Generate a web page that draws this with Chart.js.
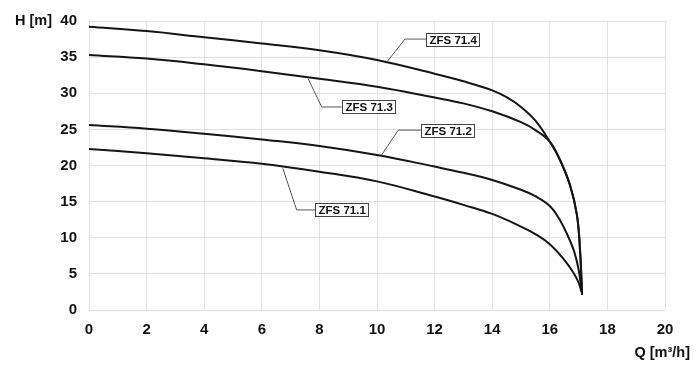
<!DOCTYPE html>
<html>
<head>
<meta charset="utf-8">
<script src="https://cdn.jsdelivr.net/npm/chart.js@4/dist/chart.umd.min.js"></script>
<style>
  html, body { margin: 0; padding: 0; background: #fff; }
  #wrap { width: 700px; height: 376px; position: relative; }
</style>
</head>
<body>
<div id="wrap"><canvas id="c"></canvas></div>
<script>
// ---- Data ----
const seriesNames = ['ZFS 71.4', 'ZFS 71.3', 'ZFS 71.2', 'ZFS 71.1'];

const q714 = [0, 2, 4, 6, 8, 10, 12, 13, 14, 14.5, 15, 15.5, 16, 16.35, 16.7, 16.94, 17.05, 17.12];
const h714 = [39.2, 38.6, 37.75, 36.9, 35.95, 34.6, 32.7, 31.65, 30.4, 29.45, 28.1, 26.2, 23.3, 20.8, 17.3, 13.2, 8.3, 2.1];

const q713 = [0, 2, 4, 6, 8, 10, 12, 13, 14, 15, 15.5, 16, 16.35, 16.7, 16.94, 17.05, 17.12];
const h713 = [35.3, 34.8, 34.0, 33.05, 32.0, 30.9, 29.4, 28.6, 27.5, 26.0, 24.9, 23.3, 20.8, 17.3, 13.2, 8.3, 2.1];

const q712 = [0, 2, 4, 6, 8, 10, 12, 13, 14, 15, 15.5, 16, 16.3, 16.6, 16.85, 17.0, 17.1];
const h712 = [25.6, 25.1, 24.4, 23.6, 22.7, 21.45, 19.85, 19.0, 18.0, 16.65, 15.75, 14.4, 12.8, 10.5, 8.05, 5.6, 2.8];

const q711 = [0, 2, 4, 6, 8, 10, 12, 13, 14, 15, 15.5, 16, 16.5, 16.8, 17.0, 17.1];
const h711 = [22.3, 21.7, 21.0, 20.25, 19.15, 17.8, 15.7, 14.55, 13.3, 11.55, 10.5, 9.1, 6.95, 5.3, 3.8, 2.5];

const xTicks = [0, 2, 4, 6, 8, 10, 12, 14, 16, 18, 20];
const yTicks = [0, 5, 10, 15, 20, 25, 30, 35, 40];

const yTitle = 'H [m]';
const xTitle = 'Q [m³/h]';

// label callouts: [text, box-left Q, box-center H, knee Q, curve Q, curve H]
const callouts = [
  ['ZFS 71.4', 11.70, 37.5, 10.97, 10.34, 34.3],
  ['ZFS 71.3', 8.77, 28.1, 8.08, 7.61, 32.0],
  ['ZFS 71.2', 11.52, 24.9, 10.74, 10.16, 21.45],
  ['ZFS 71.1', 7.85, 13.85, 7.21, 6.73, 19.6]
];

const pts = (q, h) => q.map((v, i) => ({ x: v, y: h[i] }));
const allSeries = [pts(q714, h714), pts(q713, h713), pts(q712, h712), pts(q711, h711)];

const FONT = "'Liberation Sans', Arial, sans-serif";

const overlay = {
  id: 'overlay',
  afterDatasetsDraw(chart) {
    const { ctx, scales: { x, y } } = chart;
    ctx.save();
    ctx.font = 'bold 11.5px ' + FONT;
    callouts.forEach(c => {
      const [txt, bq, bh, kq, cq, ch] = c;
      const bx = x.getPixelForValue(bq);
      const by = y.getPixelForValue(bh);
      const kx = x.getPixelForValue(kq);
      const ex = x.getPixelForValue(cq);
      const ey = y.getPixelForValue(ch);
      ctx.strokeStyle = '#555';
      ctx.lineWidth = 1;
      ctx.beginPath();
      ctx.moveTo(bx, by);
      ctx.lineTo(kx, by);
      ctx.lineTo(ex, ey);
      ctx.stroke();
      const w = Math.round(ctx.measureText(txt).width + 6);
      const h = 13;
      const rx = Math.round(bx), ry = Math.round(by - h / 2);
      ctx.fillStyle = '#fff';
      ctx.fillRect(rx, ry, w, h);
      ctx.strokeStyle = '#444';
      ctx.strokeRect(rx + 0.5, ry + 0.5, w, h);
      ctx.fillStyle = '#111';
      ctx.textBaseline = 'middle';
      ctx.textAlign = 'left';
      ctx.fillText(txt, rx + 3.5, ry + h / 2 + 1.5);
    });
    ctx.fillStyle = '#111';
    ctx.font = 'bold 14.5px ' + FONT;
    ctx.textBaseline = 'middle';
    ctx.textAlign = 'left';
    ctx.fillText(yTitle, 15, y.getPixelForValue(40));
    ctx.textAlign = 'right';
    ctx.fillText(xTitle, 690, 353);
    ctx.restore();
  }
};

new Chart(document.getElementById('c'), {
  type: 'line',
  data: {
    datasets: allSeries.map((d, i) => ({
      label: seriesNames[i],
      data: d,
      borderColor: '#151515',
      borderWidth: 2,
      pointRadius: 0,
      fill: false,
      tension: 0.4
    }))
  },
  options: {
    responsive: true,
    maintainAspectRatio: false,
    animation: false,
    layout: { padding: { left: 0, right: 35, top: 21, bottom: 0 } },
    plugins: { legend: { display: false }, tooltip: { enabled: false } },
    scales: {
      x: {
        type: 'linear',
        min: 0, max: 20,
        afterBuildTicks: s => { s.ticks = xTicks.map(v => ({ value: v })); },
        afterFit: s => { s.height = 66; },
        grid: { color: '#e2e2e2', lineWidth: 1, drawTicks: false },
        border: { display: false },
        ticks: { padding: 11, color: '#111', font: { family: FONT, size: 15, weight: 'bold' } }
      },
      y: {
        type: 'linear',
        min: 0, max: 40,
        afterBuildTicks: s => { s.ticks = yTicks.map(v => ({ value: v })); },
        afterFit: s => { s.width = 89; },
        grid: { color: '#e2e2e2', lineWidth: 1, drawTicks: false },
        border: { display: false },
        ticks: { padding: 12, color: '#111', font: { family: FONT, size: 15, weight: 'bold' } }
      }
    }
  },
  plugins: [overlay]
});
</script>
</body>
</html>
